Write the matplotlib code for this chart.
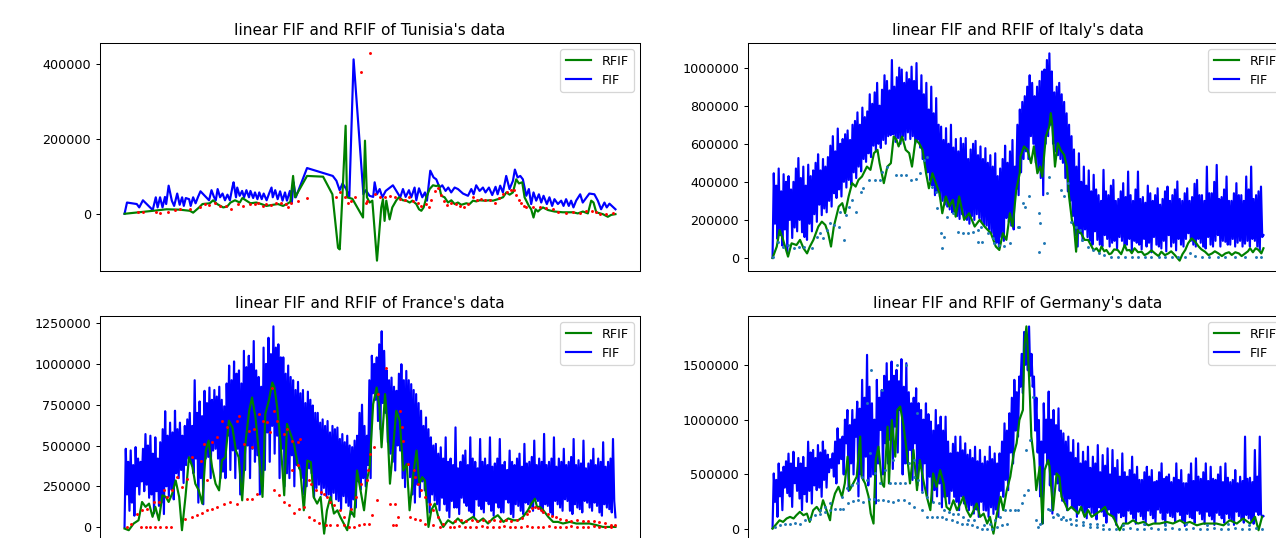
import numpy as np
import matplotlib
matplotlib.use("Agg")
import matplotlib.pyplot as plt

K = 1000.0  # values below are in thousands

# ---------------- Tunisia (day, value in thousands) ----------------
tun_fif = [(0,0),(2,30),(10,26),(12,17),(15,36),(23,10),(25.5,44),(27,17),(29,44),(31,17),
 (33,45),(34,26),(36,75),(38.6,35),(40.5,21),(43,54),(45,24),(47,44),(48.4,21),(50,42),
 (52.7,39),(54,21),(56,44),(58,28),(60,45),(62,60),(65.5,48),(69,36),(71,63),(73,45),
 (74.5,36),(76,66),(78,44),(80,54),(82,36),(84,51),(86,36),(88,70),(89,84),(91,44),
 (92,70),(94,48),(96,61),(97.6,44),(99.5,63),(101.6,44),(102.8,61),(105,42),(106.5,57),(108.5,39),
 (110,57),(112,39),(113.6,54),(116,36),(118,54),(120,70),(121,44),(123,63),(125,39),(127,60),
 (129,35),(131,57),(132.6,35),(135,61),(136.5,28),(138,84),(139.8,44),(149,122),(170,101),(173,88),
 (175.6,63),(178,81),(181,66),(183.5,44),(187,412),(195,52),(197,63),(200,48),(203,45),(204.2,84),
 (206.1,52),(208.3,66),(210.5,44),(213.2,61),(219.1,76),(221.9,61),(225.1,44),(227.3,66),(229.5,45),(232.2,63),
 (234.1,44),(236.8,70),(238.2,36),(240.4,68),(243.1,44),(245.3,57),(246.9,35),(249.6,115),(252.3,97),(254.5,92),
 (257.2,70),(259.4,76),(262.1,61),(264.3,70),(266.7,57),(269.5,70),(272.2,66),(276.3,54),(280.4,48),(283.1,66),
 (285,52),(287.1,76),(289.9,61),(292.6,70),(294.7,57),(297.5,70),(300.2,50),(302.9,72),(304.6,52),(306.7,75),
 (308.9,57),(311.6,101),(314.3,66),(317.1,88),(318.7,118),(320.9,97),(323.1,101),(325.2,92),(328,48),(330.1,66),
 (332,26),(333.9,57),(336.1,35),(338.3,52),(340.2,30),(342.1,48),(344.8,26),(346.9,44),(349.1,21),(351,39),
 (353.8,26),(356.5,35),(358.4,21),(360.5,39),(362.7,21),(364.6,35),(366.5,17),(368.7,35),(372,52),(374.1,30),
 (379.5,54),(383.6,52),(386.4,35),(389.1,12),(391.8,30),(393.7,17),(395.9,27),(400.8,12)]

tun_rfif = [(0,0),(23.4,8),(34.2,12),(45.1,11),(53.3,8),(56,3),(60.9,17),(63.6,26),(69.6,28),(72.3,36),
 (75.6,26),(80.5,17),(83.7,19),(86.5,30),(90.2,36),(94.1,30),(96.2,42),(99.5,35),(102.8,28),(107.6,30),
 (111.7,26),(115.8,21),(121.2,24),(125.3,26),(129.4,21),(133.5,28),(135.4,32),(137.6,101),(139.2,44),(149,101),
 (162.1,99),(169.7,52),(174.3,-91),(175.7,-95),(177.8,44),(180.5,235),(181.6,44),(186,40),(194.7,-10),(196.3,195),
 (197.9,44),(200.1,30),(202.3,35),(206.1,-125),(209.6,17),(211,39),(212.3,-19),(213.7,35),(216.4,-15),(218.6,17),
 (221.9,36),(224,44),(227.3,36),(230,35),(232.8,30),(235,35),(238.2,26),(240.4,12),(242.3,8),(244.2,17),
 (246.4,44),(249.1,66),(251.8,76),(254.5,74),(256.7,76),(258.6,48),(261.3,44),(264.1,30),(266.8,36),(269.5,26),
 (272.2,30),(274.9,24),(279,28),(281.7,26),(284.5,35),(287.2,33),(289.9,36),(294,35),(298.1,36),(300.8,35),
 (304.9,39),(309,44),(311.7,57),(314.4,51),(317.1,57),(319.8,92),(322,81),(324.7,84),(326.6,44),(330.1,21),
 (332,12),(333.9,-10),(335.6,12),(337.5,6),(339.4,12),(341.6,17),(345.7,10),(351.1,6),(357.9,4),(366.1,4),
 (370.1,1),(374.2,6),(378.3,1),(381,35),(382.9,30),(385.1,4),(390.5,-1),(394.6,-8),(397.3,-3),(400.8,-1)]

tun_obs = [(11.1,3.5),(15.2,3.5),(26,3.5),(28.8,1),(35.6,3.5),(41,10),(45.1,12),(53.3,12),(61.4,17),(65.5,26),
 (69,24),(73.7,28),(77.7,21),(83.2,21),(87.3,12),(92.7,26),(96.8,21),(102.2,26),(106.3,26),(109,28),
 (113.1,21),(115.8,26),(119.9,24),(124,28),(128,30),(131.6,26),(133.5,19),(136.2,30),(141.7,33),(149,42),
 (172.9,44),(175.6,57),(179.7,44),(182.5,30),(185.2,35),(187.9,45),(193.3,377),(196.9,30),(198,35),(200.1,428),
 (204.2,52),(208.3,44),(212.3,45),(216.4,48),(220.5,44),(224.6,39),(228.7,36),(232.2,44),(235.5,35),(239.6,28),
 (242.3,21),(246.4,26),(248.5,17),(250.4,36),(253.1,61),(255.9,70),(258.6,51),(260.5,35),(263.2,24),(266.8,30),
 (270.3,26),(273.6,21),(276.8,19),(280.4,26),(284.5,44),(287.7,36),(291.3,39),(294,36),(298.1,38),(302.2,30),
 (305.7,42),(309,52),(312.2,57),(315.8,63),(317.7,63),(319.8,51),(322,36),(323.9,28),(325.8,21),(328,19),
 (333.4,17),(338.9,17),(344.3,15),(349.8,12),(353.9,6),(360.7,1),(366.1,3.5),(371.5,1),(377,8),(381.9,8),
 (385.1,6),(387.9,-1),(393.3,-1),(398.7,1)]

# ---------------- Italy (FIF evenly spaced over 697 days) ----------------
ita_fif = [0,
 445,180,380,100, 470,120,350,65, 440,150,400,30, 430,200,360,105, 400,160,470,140,
 525,200,420,135, 480,110,380,95, 490,180,430,140, 460,230,500,190, 545,280,460,225,
 520,260,480,240, 530,300,590,270, 640,340,560,315, 680,360,600,323, 625,400,650,370,
 670,410,620,384, 700,450,720,420, 765,480,700,455, 790,520,740,505, 770,550,860,530,
 810,590,870,560, 920,600,800,578, 884,620,960,600, 930,640,880,645, 1040,650,900,610,
 950,630,1000,600, 990,640,920,621, 975,660,940,625, 1005,640,930,600, 1024,620,880,580,
 960,520,860,480, 920,450,780,410, 900,380,760,330, 840,350,700,323, 690,300,620,280,
 682,270,600,255, 700,240,580,235, 625,220,560,205, 630,230,600,210, 630,200,520,180,
 570,220,600,200, 615,230,540,210, 586,190,520,175, 577,170,500,150, 540,130,480,100,
 550,80,430,60, 470,110,520,90, 590,210,500,190, 560,170,620,150, 480,360,700,330,
 780,450,820,520, 850,560,900,520, 960,640,920,600, 850,500,900,470, 930,420,980,330,
 990,600,1040,640, 1075,700,980,600, 870,560,900,540, 920,520,860,500, 820,420,760,350,
 700,300,640,220, 570,120,480,60, 550,130,400,90, 480,150,380,110, 460,90,350,70,
 437,140,360,95, 330,70,300,60, 463,120,350,100, 330,60,380,80, 410,90,300,50,
 310,110,350,90, 393,60,320,70, 454,100,330,40, 300,90,360,80, 454,70,310,45,
 320,100,290,60, 380,80,340,30, 300,110,330,70, 366,60,280,50, 310,90,350,35,
 375,120,300,60, 330,80,360,40, 402,100,310,70, 300,60,340,100, 366,130,300,90,
 320,70,390,60, 410,100,330,80, 330,60,300,50, 480,110,340,70, 340,60,400,90,
 489,120,310,60, 320,90,360,85, 428,70,300,70, 300,100,340,60, 393,80,330,90,
 330,60,300,75, 428,90,360,60, 480,100,310,90, 330,60,350,40, 375,110,120]

ita_rfif = [(0,0),(6,60),(10,147),(15,95),(22,7),(27,77),(34,68),(39,95),(44,51),(49,24),
 (53,60),(58,95),(65,165),(70,191),(75,173),(79,130),(83,60),(87,165),(94,270),(99,288),
 (103,235),(108,323),(113,393),(118,375),(122,410),(127,428),(134,480),(139,463),(144,551),(149,568),
 (152,498),(158,393),(163,480),(168,498),(172,638),(176,621),(179,586),(184,638),(189,568),(194,551),
 (198,480),(203,621),(208,603),(213,568),(218,445),(222,366),(227,445),(232,393),(237,340),(241,235),
 (246,323),(251,270),(256,305),(260,217),(265,323),(272,200),(279,235),(287,165),(294,200),(301,165),
 (310,130),(317,60),(322,42),(327,130),(332,95),(337,235),(341,165),(346,358),(351,445),(352,533),
 (357,586),(362,568),(367,498),(371,586),(376,445),(380,480),(383,428),(388,638),(393,691),(395,761),
 (397,708),(401,480),(405,603),(409,568),(414,542),(418,480),(421,323),(425,200),(428,165),(431,33),
 (433,147),(438,130),(443,95),(448,95),(452,68),(456,40),(460,51),(464,30),(467,60),(471,35),
 (474,42),(478,20),(481,24),(485,45),(490,42),(495,20),(500,68),(503,40),(507,42),(510,25),
 (514,51),(519,30),(524,33),(528,15),(533,24),(538,40),(543,24),(548,10),(552,33),(557,15),
 (562,24),(566,35),(571,16),(578,-14),(582,20),(586,42),(590,77),(595,103),(600,86),(605,60),
 (609,45),(614,33),(619,15),(624,24),(628,35),(633,24),(638,10),(643,24),(648,30),(652,16),
 (657,30),(662,24),(666,10),(671,24),(675,35),(678,51),(682,30),(686,51),(690,42),(694,24),(697,51)]

ita_obs = [(0,4),(8,86),(15,60),(22,68),(30,51),(37,60),(44,60),(56,51),(63,112),(68,130),
 (72,103),(77,147),(82,182),(87,173),(94,165),(96,244),(101,95),(104,226),(108,270),(113,305),
 (118,244),(125,349),(129,366),(137,410),(146,410),(153,410),(156,454),(163,480),(175,437),(182,437),
 (189,437),(196,410),(203,414),(210,445),(215,516),(220,533),(227,375),(232,349),(234,261),(239,130),
 (240,51),(243,112),(248,217),(256,235),(263,138),(270,130),(277,130),(284,138),(291,147),(291,86),
 (296,165),(298,86),(306,130),(313,103),(315,77),(322,68),(329,63),(337,77),(348,165),(350,165),
 (355,288),(359,270),(364,323),(378,235),(378,33),(380,186),(386,77),(390,340),(393,428),(409,358),
 (414,323),(419,393),(424,191),(431,165),(436,147),(440,95),(448,60),(455,42),(464,24),(471,16),
 (480,7),(490,5),(500,5),(510,3),(519,3),(529,5),(538,7),(548,7),(557,7),(567,7),
 (576,7),(586,7),(593,28),(600,10),(610,7),(619,5),(633,3),(643,5),(657,7),(671,7),(686,7),(694,5)]

# ---------------- France (FIF evenly spaced over 701 days) ----------------
fra_fif = [0,
 480,200,400,100, 470,150,380,70, 490,250,420,200, 400,280,480,220, 570,260,500,180,
 560,200,450,85, 550,220,420,130, 520,150,600,80, 710,250,560,190, 640,230,580,170,
 713,330,600,300, 640,350,560,270, 620,380,660,420, 700,400,620,330, 900,420,700,150,
 770,300,680,140, 835,420,760,430, 855,300,780,469, 840,480,800,420, 860,300,780,340,
 740,300,880,560, 990,350,900,470, 1015,300,940,480, 960,200,880,250, 1080,350,980,500,
 1050,300,1000,480, 1140,400,960,440, 920,200,860,250, 1100,350,1000,580, 1160,400,1060,620,
 1230,450,1100,560, 1120,300,1040,480, 1040,250,940,330, 990,300,920,440, 900,250,840,380,
 890,360,820,300, 840,200,760,250, 830,360,780,330, 745,180,700,240, 700,260,640,200,
 660,240,620,190, 650,200,580,150, 620,210,600,170, 610,160,540,110, 570,190,520,150,
 560,130,500,80, 490,170,530,120, 560,280,700,230, 750,300,620,250, 560,380,900,300,
 1050,820,1000,780, 1040,650,1120,600, 1200,760,1080,700, 960,520,900,450, 916,400,860,347,
 835,500,940,469, 998,300,900,245, 957,380,900,306, 876,200,840,150, 815,260,760,185,
 713,280,620,225, 672,150,600,90, 550,200,500,164, 510,140,450,103, 489,180,420,140,
 550,100,400,60, 420,160,380,120, 611,120,360,80, 400,180,440,150, 469,130,380,100,
 550,90,420,60, 400,170,360,130, 540,110,400,90, 420,160,380,140, 550,100,370,70,
 390,150,420,120, 540,90,380,90, 400,170,350,150, 469,80,400,60, 380,140,420,130,
 450,100,370,80, 510,150,390,140, 400,120,430,100, 530,170,380,160, 420,110,400,90,
 571,140,380,130, 400,90,420,70, 550,160,370,140, 420,120,400,100, 480,170,380,160,
 400,100,430,80, 540,140,380,120, 410,110,390,90, 530,160,360,150, 390,120,410,100,
 480,150,380,130, 420,90,400,70, 520,140,370,120, 400,110,420,90, 540,160,60]

fra_rfif = [(0,-9),(6,-19),(13,22),(20,42),(25,154),(30,124),(35,144),(40,63),(44,124),(49,42),
 (54,195),(59,185),(63,154),(68,205),(73,286),(78,185),(82,-19),(87,185),(92,428),(97,367),
 (101,266),(106,225),(111,144),(116,469),(120,530),(125,367),(130,266),(135,225),(139,408),(144,428),
 (149,652),(154,611),(159,469),(163,428),(168,164),(173,530),(178,713),(182,794),(187,672),(192,449),
 (197,185),(201,693),(206,774),(211,886),(214,855),(218,733),(223,510),(228,195),(232,632),(237,571),
 (242,510),(247,388),(251,347),(256,103),(261,408),(266,398),(270,185),(275,144),(280,185),(285,-40),
 (289,103),(294,185),(299,83),(304,103),(308,63),(313,22),(318,-19),(323,103),(328,63),(332,347),
 (337,225),(342,103),(347,306),(350,367),(355,754),(360,855),(364,733),(367,489),(372,815),(375,652),
 (379,266),(384,510),(388,713),(393,652),(398,347),(403,388),(407,103),(413,347),(417,469),(421,266),
 (425,306),(429,286),(434,1),(438,103),(443,144),(448,63),(455,1),(462,42),(469,22),(476,53),
 (483,22),(490,42),(498,63),(505,32),(512,53),(519,22),(526,53),(533,73),(541,32),(548,53),
 (555,42),(562,42),(569,63),(576,103),(581,144),(586,174),(589,124),(593,124),(598,103),(605,63),
 (612,32),(619,32),(626,22),(636,32),(645,22),(655,22),(664,22),(674,12),(683,1),(693,1),(701,1)]

fra_obs = [(4,2),(9,22),(23,2),(30,2),(37,2),(44,2),(51,2),(59,2),(66,2),(87,52),
 (97,63),(104,73),(111,87),(118,103),(125,113),(132,124),(142,144),(151,154),(161,140),(175,174),
 (182,172),(189,205),(213,225),(220,195),(228,154),(235,138),(242,89),(249,113),(256,124),(263,63),
 (270,42),(278,28),(287,12),(294,12),(304,12),(313,12),(320,2),(327,2),(335,12),(342,22),(349,22),
 (18,83),(25,103),(32,113),(42,154),(49,154),(56,225),(61,185),(68,225),(75,306),(82,246),
 (89,296),(97,428),(109,408),(113,510),(118,286),(125,520),(132,550),(139,652),(147,611),(161,652),
 (163,683),(170,510),(178,591),(182,489),(185,601),(192,693),(197,652),(204,642),(208,581),(211,855),
 (213,713),(218,652),(228,571),(232,601),(239,530),(239,347),(247,520),(247,378),(251,540),(263,286),
 (266,266),(273,225),(280,215),(285,205),(289,185),(294,154),(299,134),(308,103),(313,63),(323,113),
 (330,185),(337,266),(347,347),(346,286),(351,449),(356,489),(362,815),(373,977),(393,713),(396,611),
 (398,530),(405,388),(413,347),(415,306),(419,266),(424,225),(429,185),(436,144),(441,103),(448,63),
 (455,22),(465,2),(353,73),(360,164),(379,144),(386,144),(391,63),(384,12),(388,12),(407,63),
 (415,52),(422,42),(429,22),(441,12),(450,2),
 (472,40),(480,42),(488,38),(496,45),(504,40),(512,42),(520,38),(528,45),(536,40),(544,42),
 (552,38),(560,45),(568,55),(574,80),(578,100),(582,120),(586,125),(590,118),(594,105),(598,95),
 (604,80),(610,70),(616,60),(622,50),(630,45),(638,40),(646,42),(654,38),(662,40),(670,35),
 (678,30),(686,25),(694,15),(700,10),
 (470,2),(478,4),(486,2),(494,3),(502,2),(510,4),(518,2),(526,3),(534,2),(542,4),
 (550,2),(558,3),(566,2),(574,4),(582,2),(590,3),(598,2),(606,4),(614,2),(622,3),
 (630,2),(638,4),(646,2),(654,3),(662,2),(670,4),(678,2),(686,3),(694,2)]

# ---------------- Germany (FIF evenly spaced over 700 days) ----------------
ger_fif = [10,
 509,250,450,113, 600,300,520,174, 570,380,620,330, 690,300,600,204, 707,420,560,350,
 650,280,600,174, 660,320,560,250, 799,350,700,235, 723,400,650,357, 768,380,700,296,
 800,450,720,380, 680,520,640,560, 692,480,800,418, 921,600,820,640, 845,500,1000,784,
 1088,350,950,601, 1088,500,1000,845, 1164,300,1100,500, 1363,450,1200,662, 1591,400,1300,480,
 1149,500,1000,235, 1363,600,1200,906, 1271,500,1400,784, 1515,600,1350,814, 1530,550,1400,936,
 1454,700,1350,1088, 1552,500,1300,600, 1515,600,1250,723, 1149,450,1200,784, 1286,400,1150,600,
 1088,350,1000,601, 1149,300,1050,479, 982,250,900,357, 1088,300,950,418, 1027,200,900,296,
 1027,300,800,235, 692,350,780,296, 845,250,700,174, 845,300,720,235, 784,200,680,174,
 723,220,650,143, 753,180,620,113, 723,250,600,174, 662,170,620,113, 753,200,640,140,
 692,180,600,113, 692,350,800,296, 966,450,900,357, 1058,700,1200,600, 1363,900,1250,845,
 1393,1300,1600,1241, 1800,1500,1750,1450, 1850,1400,1600,1300, 1393,900,1200,700, 997,300,800,52,
 1149,700,1000,600, 1256,400,1000,143, 1088,500,950,418, 1103,350,900,260, 875,250,800,174,
 845,280,700,200, 814,180,650,113, 784,220,600,174, 707,150,620,100, 753,200,560,150,
 662,140,600,90, 768,200,520,160, 677,120,580,60, 738,180,500,130, 723,100,560,40,
 631,150,480,110, 692,120,520,60, 480,170,540,140, 662,100,500,50, 570,160,450,120,
 450,90,520,40, 570,170,480,130, 540,100,430,60, 440,180,520,150, 601,90,460,40,
 479,150,500,120, 430,110,470,70, 601,160,450,130, 540,80,420,30, 420,140,500,110,
 601,100,440,60, 647,170,480,140, 460,90,520,50, 601,160,440,120, 570,90,460,40,
 450,150,500,130, 570,100,430,60, 601,140,470,100, 430,80,450,40, 540,160,420,120,
 479,90,440,60, 845,130,460,100, 470,80,430,50, 723,160,480,130, 845,140,110,120]

ger_rfif = [(0,6),(6,52),(10,82),(15,67),(20,98),(25,113),(30,98),(34,128),(39,159),(44,128),
 (49,143),(53,67),(58,174),(63,204),(68,159),(72,265),(77,174),(82,82),(84,204),(89,326),
 (94,387),(99,296),(103,418),(107,662),(110,357),(115,418),(120,479),(125,845),(127,479),(132,418),
 (137,296),(140,143),(144,52),(147,631),(151,753),(156,418),(159,387),(164,936),(166,418),(170,997),
 (175,662),(178,1088),(182,1119),(187,936),(191,723),(196,418),(201,723),(206,357),(210,631),(215,448),
 (220,296),(225,174),(229,509),(234,387),(239,540),(244,418),(248,204),(253,174),(258,265),(263,174),
 (268,235),(272,296),(277,174),(282,113),(287,174),(291,235),(296,113),(301,143),(306,52),(310,113),
 (315,-40),(320,143),(325,296),(329,174),(334,357),(339,479),(344,692),(348,784),(352,997),(357,1088),
 (359,1668),(362,1851),(364,1637),(367,1210),(369,845),(373,631),(376,357),(381,570),(385,52),(388,540),
 (393,631),(395,570),(400,174),(405,509),(409,479),(412,296),(417,235),(421,174),(426,204),(431,174),
 (436,143),(440,204),(445,113),(450,174),(455,113),(462,143),(469,174),(474,204),(478,143),(486,113),
 (490,52),(495,-9),(500,52),(507,52),(514,82),(521,52),(529,67),(536,36),(543,52),(552,52),
 (562,67),(571,52),(581,82),(588,52),(595,67),(605,36),(614,52),(624,52),(633,52),(643,36),
 (652,82),(662,52),(671,98),(681,52),(688,113),(693,-9),(698,113)]

ger_obs = [(3,21),(10,36),(18,46),(25,52),(32,58),(39,52),(46,82),(53,98),(60,128),(68,143),
 (75,159),(82,174),(89,189),(96,189),(101,189),(108,235),(115,259),(122,265),(129,250),(137,280),
 (144,280),(151,265),(158,265),(165,259),(172,250),(179,265),(187,271),(194,235),(201,204),(213,174),
 (220,113),(227,113),(234,113),(241,113),(248,98),(256,82),(263,67),(270,52),(277,52),(284,36),
 (291,21),(298,6),(306,6),(313,6),(320,21),(327,36),(334,52),
 (68,174),(75,204),(82,235),(99,296),(106,372),(113,402),(120,418),(127,479),(134,448),(146,509),
 (153,418),(160,540),(168,418),(175,424),(182,418),(189,418),(194,601),(201,479),(208,448),(213,341),
 (220,296),(229,250),(237,235),(244,174),(251,159),(258,143),(265,143),(272,113),(279,82),(287,82),
 (301,36),(310,52),(317,82),(325,113),(332,174),(339,174),(346,174),
 (134,1149),(141,1454),(156,1271),(177,1500),(191,1500),(206,1058),(172,631),(201,631),(139,692),
 (350,174),(355,235),(359,311),(364,357),(362,722),(367,814),(371,1210),(376,82),(379,21),(381,52),
 (393,189),(395,174),(400,113),(407,128),(412,98),(419,82),(426,52),(433,36),(443,36),(452,21),
 (462,21),(471,6),(405,143),(414,113),(424,98),(433,82),(443,67),(452,52),(462,52),(471,36),
 (480,6),(490,6),(500,6),(510,10),(520,6),(530,6),(540,10),(550,6),(560,6),(570,10),
 (580,6),(590,6),(600,10),(610,6),(620,6),(630,10),(640,6),(650,6),(660,10),(670,6),
 (680,6),(690,10),(698,6),(500,40),(530,45),(560,40),(590,45),(620,40),(650,45),(680,40)]

titles = ["linear FIF and RFIF of Tunisia's data", "linear FIF and RFIF of Italy's data",
          "linear FIF and RFIF of France's data", "linear FIF and RFIF of Germany's data"]

# ---------------- figure ----------------
W, H, DPI = 1276, 538, 92
fig = plt.figure(figsize=(W / DPI, H / DPI), dpi=DPI)


def add_ax(l, t, r, b):
    return fig.add_axes([l / W, 1 - b / H, (r - l) / W, (b - t) / H])


def unzip(pairs):
    a = np.array(pairs, dtype=float)
    return a[:, 0], a[:, 1] * K


def panel(ax, title, fif_x, fif_y, rfif, obs, obs_color, yticks):
    rx, ry = unzip(rfif)
    ox, oy = unzip(obs)
    lf, = ax.plot(fif_x, fif_y, color='b', lw=1.7)
    lr, = ax.plot(rx, ry, color='g', lw=1.7)
    ax.plot(ox, oy, linestyle='none', marker='o', ms=2.3, mew=0, color=obs_color)
    ax.set_title(title)
    ax.set_xticks([])
    ax.set_yticks(yticks)
    ax.ticklabel_format(axis='y', style='plain', useOffset=False)
    ax.legend([lr, lf], ['RFIF', 'FIF'], loc='upper right')


ax1 = add_ax(100, 43, 640, 271)
tx, ty = unzip(tun_fif)
panel(ax1, titles[0], tx, ty, tun_rfif, tun_obs, 'red', [0, 200000, 400000])

ax2 = add_ax(748, 43, 1288, 271)
iy = np.array(ita_fif, dtype=float) * K
panel(ax2, titles[1], np.linspace(0, 697, len(iy)), iy, ita_rfif, ita_obs, 'C0',
      [0, 200000, 400000, 600000, 800000, 1000000])

ax3 = add_ax(100, 316, 640, 544)
fy = np.array(fra_fif, dtype=float) * K
panel(ax3, titles[2], np.linspace(0, 701, len(fy)), fy, fra_rfif, fra_obs, 'red',
      [0, 250000, 500000, 750000, 1000000, 1250000])

ax4 = add_ax(748, 316, 1288, 544)
gy = np.array(ger_fif, dtype=float) * K
panel(ax4, titles[3], np.linspace(0, 700, len(gy)), gy, ger_rfif, ger_obs, 'C0',
      [0, 500000, 1000000, 1500000])

fig.savefig("out.png", dpi=DPI)
